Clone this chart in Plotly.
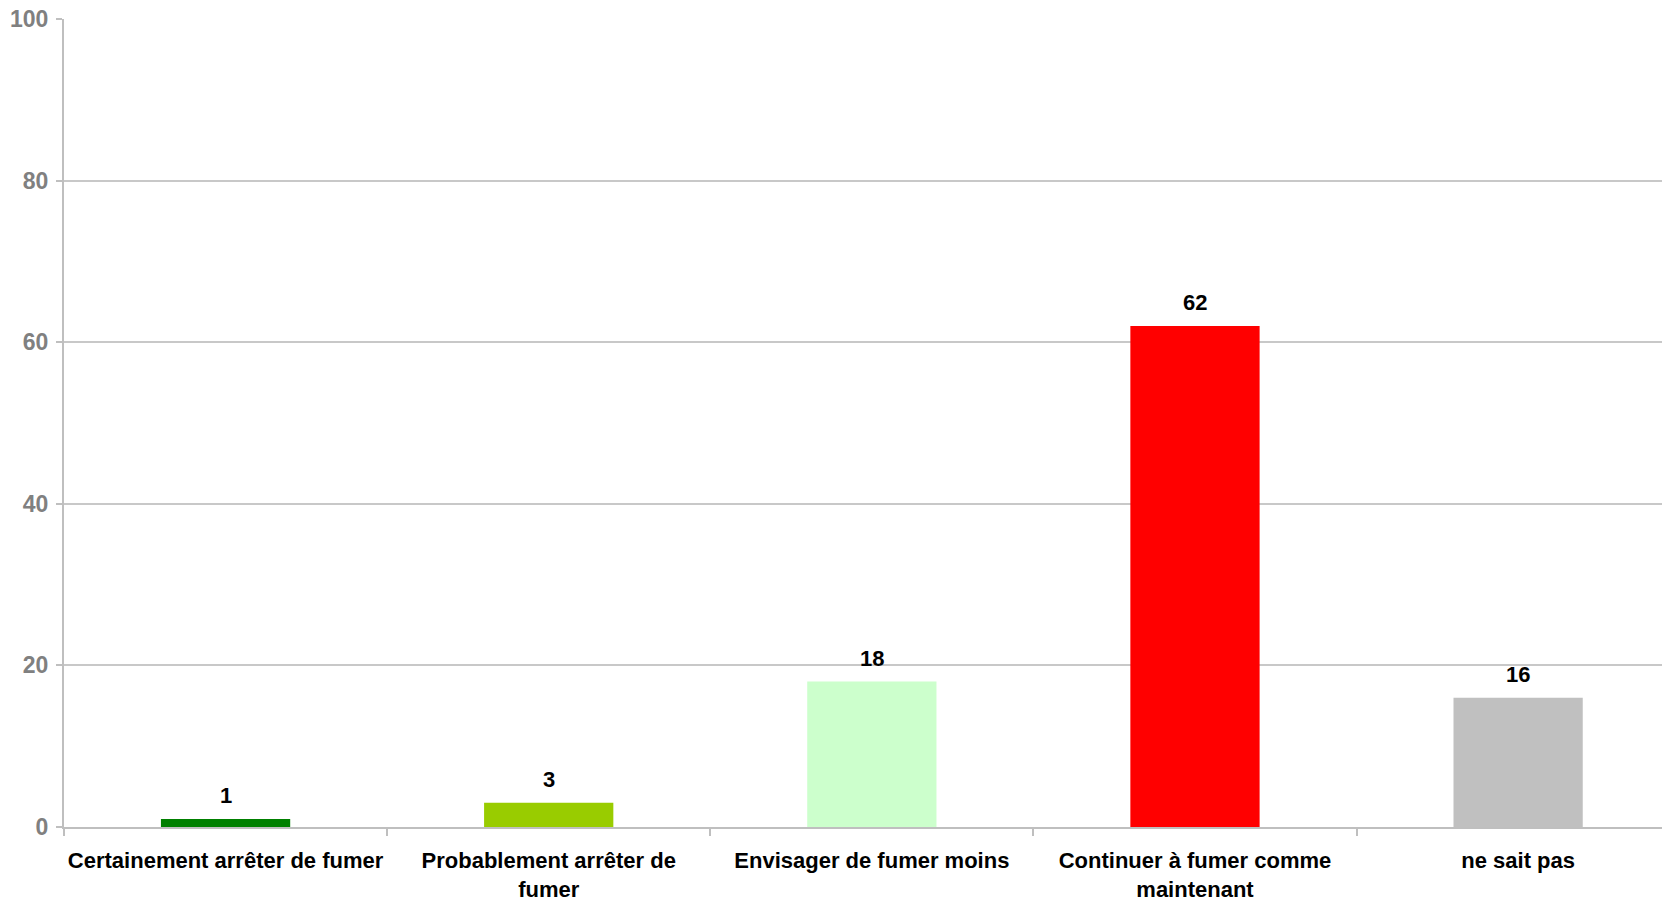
import plotly.graph_objects as go

categories = ["Certainement arrêter de fumer", "Probablement arrêter de<br>fumer",
              "Envisager de fumer moins", "Continuer à fumer comme<br>maintenant", "ne sait pas"]
values = [1, 3, 18, 62, 16]
colors = ["#008000", "#99CC00", "#CCFFCC", "#FF0000", "#C0C0C0"]
y_ticks = [0, 20, 40, 60, 80, 100]

FONT = "Liberation Sans, Arial"

fig = go.Figure()
fig.add_trace(go.Bar(
    x=categories, y=values, marker_color=colors, marker_line_width=0,
    width=0.4, showlegend=False,
))
for c, v in zip(categories, values):
    fig.add_annotation(x=c, y=v, text=f"<b>{v}</b>", showarrow=False, yanchor="bottom",
                       yshift=9, font=dict(family=FONT, size=22, color="black"))
fig.update_layout(
    width=1662, height=892,
    margin=dict(l=56, r=0, t=11, b=73, autoexpand=False),
    plot_bgcolor="white", paper_bgcolor="white",
    font=dict(family=FONT),
)
fig.update_xaxes(
    type="category", tickmode="array", tickvals=categories,
    ticktext=[f"<b>{c}</b>" for c in categories], tickangle=0, automargin=False,
    range=[-0.5, 4.47], showline=True, linecolor="#BFBFBF", linewidth=2,
    showgrid=False, ticks="outside", ticklen=7, tickcolor="#BFBFBF", tickwidth=2,
    tickson="boundaries", ticklabelstandoff=13,
    tickfont=dict(size=22, color="black"), zeroline=False,
)
fig.update_yaxes(
    range=[0, 100], tickvals=y_ticks, ticktext=[f"<b>{t}</b>" for t in y_ticks],
    showline=True, linecolor="#BFBFBF", linewidth=2, gridcolor="#C8C8C8", gridwidth=1.5,
    ticks="outside", ticklen=6, tickcolor="#BFBFBF", tickwidth=2, ticklabelstandoff=3,
    ticklabeloverflow="allow", automargin=False,
    tickfont=dict(size=23, color="#808080"), zeroline=False,
)
fig.write_html("out.html")
